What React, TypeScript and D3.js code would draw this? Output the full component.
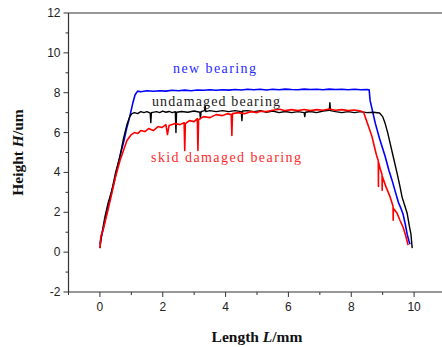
import React from "react";
import * as d3 from "d3";

// profile data: [length L (mm), height H (um)]
const newBearing: [number, number][] = [
  [0.0, 0.4], [0.05, 0.8], [0.15, 1.5], [0.25, 2.2], [0.35, 2.9], [0.45, 3.5],
  [0.55, 4.2], [0.65, 4.9], [0.75, 5.5], [0.85, 6.2], [0.95, 6.8], [1.05, 7.5],
  [1.12, 7.9], [1.2, 8.08], [1.3, 8.05], [1.5, 8.1], [1.7, 8.07], [1.9, 8.1],
  [2.1, 8.08], [2.3, 8.12], [2.5, 8.1], [2.7, 8.13], [2.9, 8.1], [3.1, 8.14],
  [3.3, 8.12], [3.5, 8.15], [3.7, 8.12], [3.9, 8.15], [4.1, 8.13], [4.3, 8.16],
  [4.5, 8.14], [4.7, 8.17], [4.9, 8.15], [5.1, 8.17], [5.3, 8.14], [5.5, 8.17],
  [5.7, 8.15], [5.9, 8.18], [6.1, 8.16], [6.3, 8.15], [6.5, 8.18], [6.7, 8.16],
  [6.9, 8.17], [7.1, 8.15], [7.3, 8.18], [7.5, 8.16], [7.7, 8.17], [7.9, 8.15],
  [8.1, 8.17], [8.3, 8.15], [8.5, 8.16], [8.57, 8.15], [8.6, 7.6], [8.66, 7.2],
  [8.76, 6.5], [8.9, 5.7], [9.0, 5.2], [9.08, 4.8], [9.2, 4.1], [9.3, 3.6],
  [9.39, 3.1], [9.5, 2.5], [9.58, 2.2], [9.65, 1.9], [9.72, 1.4], [9.78, 0.9],
  [9.83, 0.6], [9.87, 0.4],
];

const undamagedBearing: [number, number][] = [
  [0.0, 0.2], [0.05, 0.8], [0.15, 1.7], [0.25, 2.4], [0.38, 3.1], [0.5, 4.0],
  [0.64, 4.8], [0.75, 5.7], [0.86, 6.4], [0.95, 6.8], [1.02, 6.95], [1.1, 7.0],
  [1.2, 6.95], [1.3, 7.05], [1.4, 7.0], [1.5, 7.05], [1.6, 6.98], [1.62, 6.5],
  [1.64, 7.0], [1.8, 7.05], [1.9, 7.0], [2.0, 7.08], [2.1, 7.02], [2.2, 7.06],
  [2.3, 7.0], [2.4, 7.05], [2.42, 6.0], [2.44, 7.02], [2.6, 7.06], [2.8, 7.02],
  [3.0, 7.08], [3.18, 7.02], [3.2, 6.7], [3.22, 7.05], [3.33, 7.1], [3.35, 7.35],
  [3.37, 7.05], [3.5, 7.1], [3.7, 7.05], [3.9, 7.1], [4.1, 7.05], [4.3, 7.1],
  [4.5, 7.05], [4.52, 6.6], [4.54, 7.08], [4.7, 7.1], [4.9, 7.05], [5.1, 7.1],
  [5.3, 7.02], [5.5, 7.08], [5.7, 7.0], [5.9, 7.06], [6.1, 7.0], [6.3, 7.05],
  [6.5, 7.0], [6.52, 6.8], [6.54, 7.02], [6.7, 7.06], [6.9, 7.0], [7.1, 7.08],
  [7.3, 7.12], [7.32, 7.5], [7.34, 7.1], [7.5, 7.05], [7.7, 7.0], [7.9, 7.05],
  [8.1, 7.0], [8.3, 7.05], [8.5, 7.0], [8.7, 7.02], [8.9, 6.98], [9.0, 6.8],
  [9.08, 6.45], [9.16, 6.0], [9.24, 5.45], [9.35, 4.7], [9.46, 3.95], [9.55, 3.3],
  [9.62, 2.75], [9.7, 2.35], [9.78, 1.95], [9.85, 1.3], [9.9, 0.9], [9.94, 0.2],
];

const skidDamagedBearing: [number, number][] = [
  [0.0, 0.2], [0.03, 0.8], [0.1, 1.1], [0.16, 1.5], [0.27, 2.2], [0.38, 2.95],
  [0.5, 3.8], [0.64, 4.6], [0.75, 5.1], [0.86, 5.6], [1.0, 5.9], [1.1, 6.0],
  [1.2, 5.95], [1.3, 6.1], [1.43, 6.05], [1.55, 6.2], [1.7, 6.1], [1.85, 6.3],
  [1.97, 6.25], [2.1, 6.4], [2.15, 5.9], [2.2, 6.35], [2.4, 6.45], [2.55, 6.4],
  [2.68, 6.5], [2.7, 5.1], [2.72, 6.45], [2.85, 6.6], [3.0, 6.55], [3.1, 6.7],
  [3.12, 5.1], [3.14, 6.65], [3.3, 6.8], [3.5, 6.75], [3.7, 6.9], [3.9, 6.85],
  [4.05, 6.95], [4.18, 6.9], [4.2, 5.85], [4.22, 6.95], [4.4, 7.0], [4.6, 6.95],
  [4.8, 7.05], [5.0, 7.0], [5.1, 7.07], [5.3, 7.05], [5.5, 7.12], [5.73, 7.17],
  [5.9, 7.1], [6.1, 7.15], [6.3, 7.1], [6.5, 7.16], [6.7, 7.1], [6.9, 7.15],
  [7.1, 7.12], [7.3, 7.18], [7.5, 7.12], [7.7, 7.15], [7.9, 7.1], [8.1, 7.13],
  [8.3, 7.08], [8.4, 7.0], [8.44, 6.8], [8.55, 6.3], [8.66, 5.8], [8.75, 5.2],
  [8.82, 4.77], [8.86, 4.6], [8.865, 3.3], [8.87, 4.5], [8.92, 4.2], [8.98, 3.9],
  [8.985, 3.1], [8.99, 3.8], [9.1, 3.3], [9.24, 2.76], [9.33, 2.3], [9.335, 1.6],
  [9.34, 2.2], [9.46, 1.95], [9.55, 1.6], [9.65, 1.25], [9.72, 0.9], [9.81, 0.35],
];

const xTicks = [0, 2, 4, 6, 8, 10];
const yTicks = [-2, 0, 2, 4, 6, 8, 10, 12];
const xMinor = [-1, 1, 3, 5, 7, 9, 11];
const yMinor = [-1, 1, 3, 5, 7, 9, 11];

export default function App() {
  const width = 442;
  const height = 347;
  const x = d3.scaleLinear().domain([-1, 11]).range([68.5, 445.5]);
  const y = d3.scaleLinear().domain([-2, 12]).range([292, 13]);
  const line = d3
    .line<[number, number]>()
    .x((d) => x(d[0]))
    .y((d) => y(d[1]));

  const axisColor = "#333";
  const tickFont = "'Liberation Sans', Arial, sans-serif";
  const titleFont = "'Liberation Serif', 'Times New Roman', serif";
  // the labels use a SimSun-like spaced serif; spread them to the measured widths
  const noteFont = "'Liberation Serif', serif";

  return (
    <svg
      width={width}
      height={height}
      style={{ position: "absolute", left: 0, top: 0, background: "#fff" }}
    >
      {/* curves */}
      <path d={line(newBearing) || ""} fill="none" stroke="#0000ff" strokeWidth={1.6} strokeLinejoin="round" />
      <path d={line(undamagedBearing) || ""} fill="none" stroke="#000" strokeWidth={1.4} strokeLinejoin="round" />
      <path d={line(skidDamagedBearing) || ""} fill="none" stroke="#ff0000" strokeWidth={1.6} strokeLinejoin="round" />

      {/* frame */}
      <line x1={x(-1)} x2={x(11)} y1={y(12)} y2={y(12)} stroke={axisColor} strokeWidth={1.2} />
      <line x1={x(-1)} x2={x(11)} y1={y(-2)} y2={y(-2)} stroke={axisColor} strokeWidth={1.2} />
      <line x1={x(-1)} x2={x(-1)} y1={y(12)} y2={y(-2)} stroke={axisColor} strokeWidth={1.2} />

      {/* y axis */}
      {yTicks.map((t) => (
        <g key={"y" + t}>
          <line x1={x(-1) - 5} x2={x(-1)} y1={y(t)} y2={y(t)} stroke={axisColor} strokeWidth={1} />
          <text
            x={x(-1) - 8}
            y={y(t) + 4}
            textAnchor="end"
            fontFamily={tickFont}
            fontSize={12}
            fill="#222"
          >
            {t}
          </text>
        </g>
      ))}
      {yMinor.map((t) => (
        <line key={"ym" + t} x1={x(-1) - 3} x2={x(-1)} y1={y(t)} y2={y(t)} stroke={axisColor} strokeWidth={1} />
      ))}

      {/* x axis */}
      {xTicks.map((t) => (
        <g key={"x" + t}>
          <line x1={x(t)} x2={x(t)} y1={y(-2)} y2={y(-2) + 5} stroke={axisColor} strokeWidth={1} />
          <text
            x={x(t)}
            y={y(-2) + 19}
            textAnchor="middle"
            fontFamily={tickFont}
            fontSize={12}
            fill="#222"
          >
            {t}
          </text>
        </g>
      ))}
      {xMinor.map((t) => (
        <line key={"xm" + t} x1={x(t)} x2={x(t)} y1={y(-2)} y2={y(-2) + 3} stroke={axisColor} strokeWidth={1} />
      ))}

      {/* axis titles */}
      <text
        x={257}
        y={342}
        textAnchor="middle"
        fontFamily={titleFont}
        fontSize={15.5}
        fontWeight="bold"
        fill="#111"
      >
        Length <tspan fontStyle="italic">L</tspan>/mm
      </text>
      <text
        transform={`translate(23, ${(y(12) + y(-2)) / 2}) rotate(-90)`}
        textAnchor="middle"
        fontFamily={titleFont}
        fontSize={15.5}
        fontWeight="bold"
        fill="#111"
      >
        Height <tspan fontStyle="italic">H</tspan>/um
      </text>

      {/* curve labels */}
      <text x={173} y={73} fontFamily={noteFont} fontSize={14} fill="#2a2aff" textLength={83} lengthAdjust="spacing">
        new bearing
      </text>
      <text x={152} y={106} fontFamily={noteFont} fontSize={14} fill="#222" textLength={128} lengthAdjust="spacing">
        undamaged bearing
      </text>
      <text x={151} y={162} fontFamily={noteFont} fontSize={14} fill="#ff2a2a" textLength={150} lengthAdjust="spacing">
        skid damaged bearing
      </text>
    </svg>
  );
}
